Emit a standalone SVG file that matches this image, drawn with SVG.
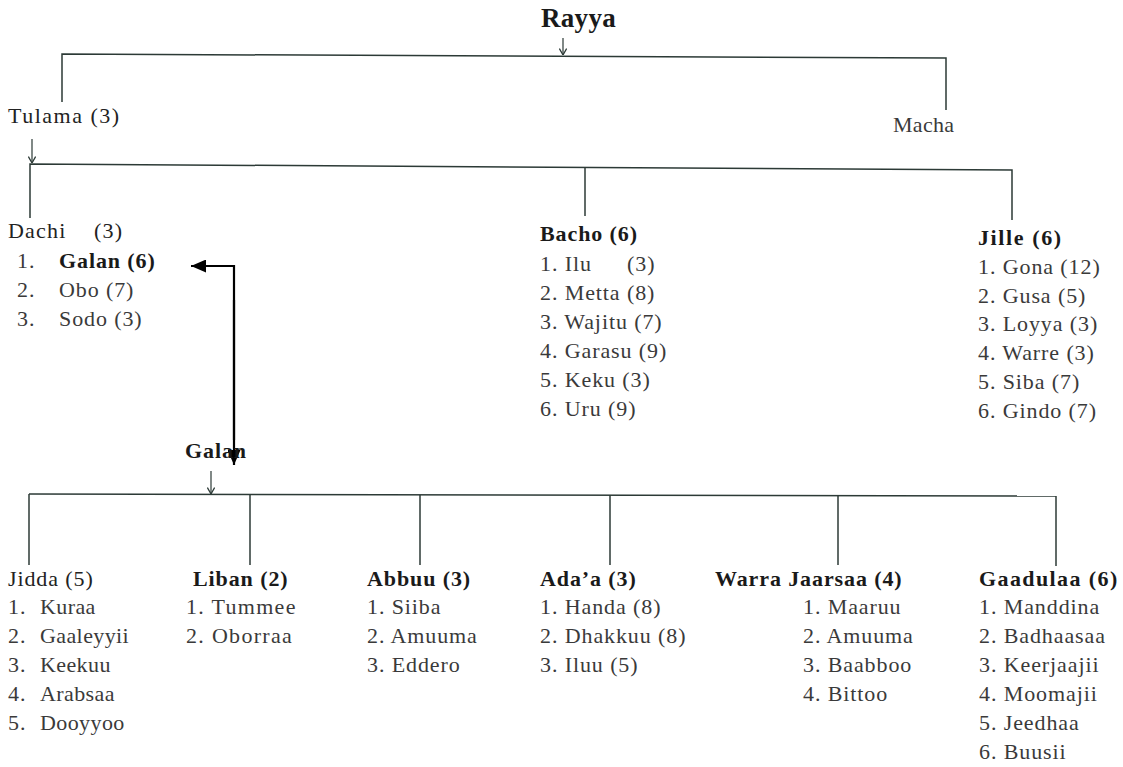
<svg xmlns="http://www.w3.org/2000/svg" width="1123" height="767" viewBox="0 0 1123 767">
<style>
text{font-family:"Liberation Serif","Times New Roman",serif;font-size:22px;letter-spacing:0.9px;fill:#3a3a3a}
.b{font-weight:bold;fill:#1a1a1a}
.h{fill:#222}
.ln{stroke:#2c3a36;stroke-width:1.5;fill:none}
.sa{stroke:#2c3a36;stroke-width:1.2;fill:none}
.thick{stroke:#000;stroke-width:2.2;fill:none}
</style>
<defs>
<marker id="sm" viewBox="0 0 10 10" refX="10" refY="5" markerWidth="8" markerHeight="8" orient="auto" markerUnits="userSpaceOnUse"><path d="M2,0.5 L10,5 L2,9.5" fill="none" stroke="#2c3a36" stroke-width="1.6"/></marker>
<marker id="big" viewBox="0 0 10 10" refX="10" refY="5" markerWidth="15" markerHeight="13" orient="auto" markerUnits="userSpaceOnUse" preserveAspectRatio="none"><path d="M0,0 L10,5 L0,10 z" fill="#000"/></marker>
</defs>
<rect width="1123" height="767" fill="#fff"/>
<g id="connectors">
<line class="sa" x1="563" y1="38" x2="563" y2="55" marker-end="url(#sm)"/>
<polyline class="ln" points="62,102 62,54 946,58 946,110"/>
<line class="sa" x1="32" y1="139" x2="32" y2="163" marker-end="url(#sm)"/>
<polyline class="ln" points="30,218 30,164 1012,170 1012,220"/>
<line class="ln" x1="585" y1="167" x2="585" y2="216"/>
<polyline class="thick" points="234,440 234,266 191,266" marker-end="url(#big)"/>
<line class="thick" x1="234" y1="300" x2="234" y2="465" marker-end="url(#big)"/>
<line class="sa" x1="211" y1="471" x2="211" y2="494" marker-end="url(#sm)"/>
<line class="ln" x1="29" y1="494" x2="1056" y2="496"/>
<line class="ln" x1="29" y1="494" x2="29" y2="565"/>
<line class="ln" x1="250" y1="494" x2="250" y2="565"/>
<line class="ln" x1="420" y1="495" x2="420" y2="565"/>
<line class="ln" x1="610" y1="495" x2="610" y2="565"/>
<line class="ln" x1="838" y1="496" x2="838" y2="565"/>
<line class="ln" x1="1056" y1="496" x2="1056" y2="566"/>
</g>
<g id="rayya"><text class="b" x="541" y="27" style="font-size:27px;letter-spacing:0.3px">Rayya</text></g>
<g id="tulama"><text class="h" x="8" y="123" style="letter-spacing:1.5px">Tulama (3)</text></g>
<g id="macha"><text x="893" y="132" style="letter-spacing:0.3px">Macha</text></g>
<g id="dachi">
<text class="h" x="8" y="238" style="letter-spacing:1.2px">Dachi<tspan x="94">(3)</tspan></text>
<text x="17" y="268">1.</text><text class="b" x="59" y="268">Galan (6)</text>
<text x="17" y="297">2.</text><text x="59" y="297">Obo (7)</text>
<text x="17" y="326">3.</text><text x="59" y="326">Sodo (3)</text>
</g>
<g id="bacho">
<text class="b" x="540" y="241">Bacho (6)</text>
<text x="540" y="271">1. Ilu<tspan x="627">(3)</tspan></text>
<text x="540" y="300">2. Metta (8)</text>
<text x="540" y="329">3. Wajitu (7)</text>
<text x="540" y="358">4. Garasu (9)</text>
<text x="540" y="387">5. Keku (3)</text>
<text x="540" y="416">6. Uru (9)</text>
</g>
<g id="jille">
<text class="b" x="978" y="245" style="letter-spacing:1.6px">Jille (6)</text>
<text x="978" y="274">1. Gona (12)</text>
<text x="978" y="303">2. Gusa (5)</text>
<text x="978" y="331">3. Loyya (3)</text>
<text x="978" y="360">4. Warre (3)</text>
<text x="978" y="389">5. Siba (7)</text>
<text x="978" y="418">6. Gindo (7)</text>
</g>
<g id="galan"><text class="b" x="185" y="458">Galan</text></g>
<g id="jidda">
<text class="h" x="8" y="586">Jidda (5)</text>
<text x="8" y="614">1.</text><text x="40" y="614" style="letter-spacing:0.4px">Kuraa</text>
<text x="8" y="643">2.</text><text x="40" y="643" style="letter-spacing:0.4px">Gaaleyyii</text>
<text x="8" y="672">3.</text><text x="40" y="672" style="letter-spacing:0.4px">Keekuu</text>
<text x="8" y="701">4.</text><text x="40" y="701" style="letter-spacing:0.4px">Arabsaa</text>
<text x="8" y="730">5.</text><text x="40" y="730" style="letter-spacing:0.4px">Dooyyoo</text>
</g>
<g id="liban">
<text class="b" x="193" y="586">Liban (2)</text>
<text x="186" y="614" style="letter-spacing:1.3px">1. Tummee</text>
<text x="186" y="643" style="letter-spacing:1.3px">2. Oborraa</text>
</g>
<g id="abbuu">
<text class="b" x="367" y="586">Abbuu (3)</text>
<text x="367" y="614">1. Siiba</text>
<text x="367" y="643">2. Amuuma</text>
<text x="367" y="672">3. Eddero</text>
</g>
<g id="adaa">
<text class="b" x="540" y="586">Ada’a (3)</text>
<text x="540" y="614">1. Handa (8)</text>
<text x="540" y="643">2. Dhakkuu (8)</text>
<text x="540" y="672">3. Iluu (5)</text>
</g>
<g id="warra">
<text class="b" x="715" y="586">Warra Jaarsaa (4)</text>
<text x="803" y="614">1. Maaruu</text>
<text x="803" y="643">2. Amuuma</text>
<text x="803" y="672">3. Baabboo</text>
<text x="803" y="701">4. Bittoo</text>
</g>
<g id="gaadulaa">
<text class="b" x="979" y="586" style="letter-spacing:1.4px">Gaadulaa (6)</text>
<text x="979" y="614">1. Manddina</text>
<text x="979" y="643">2. Badhaasaa</text>
<text x="979" y="672">3. Keerjaajii</text>
<text x="979" y="701">4. Moomajii</text>
<text x="979" y="730">5. Jeedhaa</text>
<text x="979" y="759">6. Buusii</text>
</g>
</svg>
